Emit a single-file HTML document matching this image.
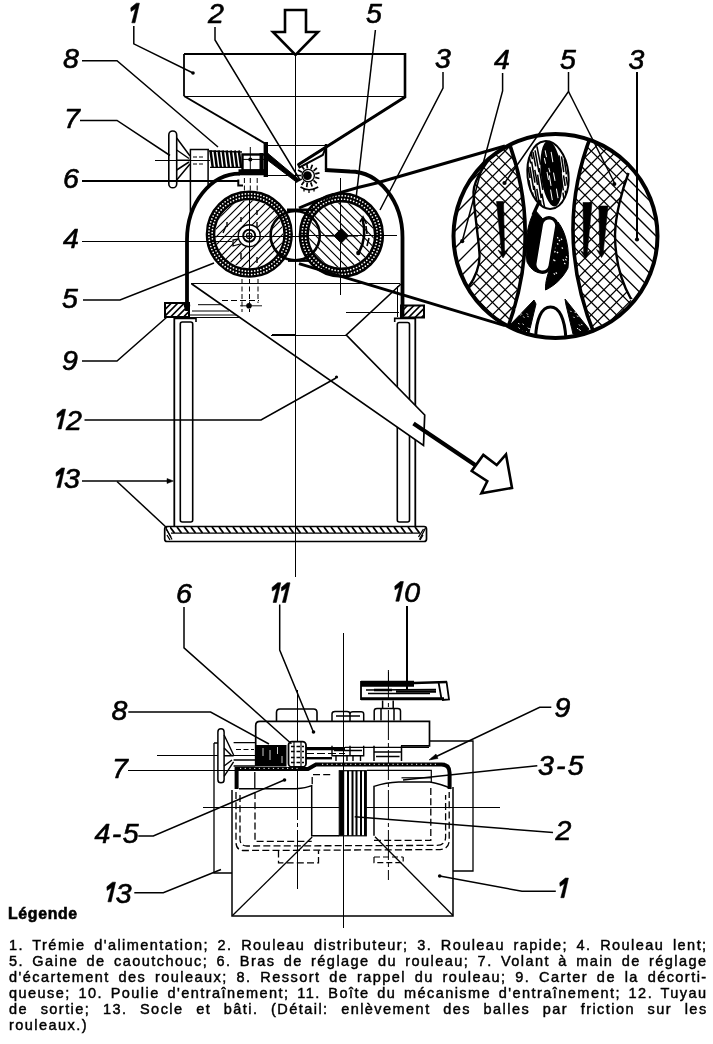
<!DOCTYPE html>
<html><head><meta charset="utf-8"><title>Décortiqueuse à rouleaux</title>
<style>
html,body{margin:0;padding:0;background:#fff;}
body{width:713px;height:1044px;position:relative;overflow:hidden;font-family:"Liberation Sans",sans-serif;color:#000;}
svg{position:absolute;left:0;top:0;}
svg,h1,.leg{will-change:transform;}
svg{stroke:#000;stroke-linecap:butt;stroke-linejoin:miter;}
svg text.lb{font-family:"Liberation Sans",sans-serif;font-style:italic;font-weight:400;fill:#000;stroke:#000;stroke-width:0.65px;stroke-linejoin:round;}
.leg{position:absolute;left:8.6px;width:698.6px;font-size:14.5px;line-height:15.92px;letter-spacing:1.45px;-webkit-text-stroke:0.45px #000;}
.leg div{text-align:justify;text-align-last:justify;white-space:nowrap;height:15.92px;}
.leg div.last{text-align-last:left;}
h1{position:absolute;left:8px;top:905.3px;margin:0;font-size:15.8px;line-height:18px;font-weight:700;letter-spacing:0.7px;-webkit-text-stroke:0.6px #000;}
</style></head><body>
<svg width="713" height="1044" viewBox="0 0 713 1044" fill="none">
<line x1="295.3" y1="55" x2="295.3" y2="577" stroke-width="1.2"  shape-rendering="crispEdges"/>
<path d="M285,10 L306,10 L306,32 L318,32 L295.5,55 L273,32 L285,32 Z" stroke-width="2.6" fill="#fff" />
<line x1="184" y1="54" x2="405" y2="54" stroke-width="1.2"  shape-rendering="crispEdges"/>
<line x1="184" y1="96" x2="405" y2="96" stroke-width="1.0"  shape-rendering="crispEdges"/>
<line x1="184" y1="54" x2="184" y2="96" stroke-width="1.8" />
<line x1="405" y1="53" x2="405" y2="98" stroke-width="2.6" />
<line x1="184" y1="96" x2="266" y2="144" stroke-width="2.0" />
<path d="M405,97 L298.2,164.7 L299.5,167.3 L322.8,155 L326,147" stroke-width="2.0" fill="#fff" />
<line x1="405" y1="97" x2="298.2" y2="164.7" stroke-width="3.0" />
<line x1="267.3" y1="145.1" x2="326" y2="145.1" stroke-width="1.0"  shape-rendering="crispEdges"/>
<line x1="326" y1="144" x2="326" y2="170" stroke-width="2.4" />
<line x1="265.8" y1="142" x2="265.8" y2="177" stroke-width="4.4" />
<path d="M268,153.5 L299,179.5 L297,182.5 L268,160.5 Z" stroke-width="1" fill="#000" />
<line x1="268" y1="175.5" x2="296.6" y2="175.5" stroke-width="1.0"  shape-rendering="crispEdges"/>
<path d="M324.9,170 L350,171.5 A52.5,66 0 0 1 402.5,238 L402.5,316" stroke-width="3.8" fill="none" />
<path d="M240,173.6 A53,66 0 0 0 187,240 L187,311" stroke-width="3.8" fill="none" />
<circle cx="187" cy="305.5" r="3.2" fill="#000" stroke="none"/>
<line x1="397" y1="286" x2="397" y2="317" stroke-width="1.0"  shape-rendering="crispEdges"/>
<clipPath id="rc249"><circle cx="249.3" cy="234.2" r="34"/></clipPath>
<path d="M88.8,284.2 L188.8,184.2 M96.8,284.2 L196.8,184.2 M104.8,284.2 L204.8,184.2 M112.8,284.2 L212.8,184.2 M120.8,284.2 L220.8,184.2 M128.8,284.2 L228.8,184.2 M136.8,284.2 L236.8,184.2 M144.8,284.2 L244.8,184.2 M152.8,284.2 L252.8,184.2 M160.8,284.2 L260.8,184.2 M168.8,284.2 L268.8,184.2 M176.8,284.2 L276.8,184.2 M184.8,284.2 L284.8,184.2 M192.8,284.2 L292.8,184.2 M200.8,284.2 L300.8,184.2 M208.8,284.2 L308.8,184.2 M216.8,284.2 L316.8,184.2 M224.8,284.2 L324.8,184.2 M232.8,284.2 L332.8,184.2 M240.8,284.2 L340.8,184.2 M248.8,284.2 L348.8,184.2 M256.8,284.2 L356.8,184.2 M264.8,284.2 L364.8,184.2 M272.8,284.2 L372.8,184.2 M280.8,284.2 L380.8,184.2 M288.8,284.2 L388.8,184.2 M296.8,284.2 L396.8,184.2 M304.8,284.2 L404.8,184.2 M312.8,284.2 L412.8,184.2 " stroke-width="1.15" clip-path="url(#rc249)"/>
<circle cx="249.3" cy="234.2" r="38.8" stroke-width="9.600000000000001"/>
<circle cx="286.47" cy="234.20" r="0.85" fill="#fff" stroke="none"/>
<circle cx="286.34" cy="237.31" r="0.85" fill="#fff" stroke="none"/>
<circle cx="285.95" cy="240.40" r="0.85" fill="#fff" stroke="none"/>
<circle cx="285.30" cy="243.44" r="0.85" fill="#fff" stroke="none"/>
<circle cx="284.40" cy="246.42" r="0.85" fill="#fff" stroke="none"/>
<circle cx="283.25" cy="249.32" r="0.85" fill="#fff" stroke="none"/>
<circle cx="281.87" cy="252.11" r="0.85" fill="#fff" stroke="none"/>
<circle cx="280.26" cy="254.77" r="0.85" fill="#fff" stroke="none"/>
<circle cx="278.43" cy="257.29" r="0.85" fill="#fff" stroke="none"/>
<circle cx="276.39" cy="259.64" r="0.85" fill="#fff" stroke="none"/>
<circle cx="274.17" cy="261.82" r="0.85" fill="#fff" stroke="none"/>
<circle cx="271.77" cy="263.81" r="0.85" fill="#fff" stroke="none"/>
<circle cx="269.22" cy="265.58" r="0.85" fill="#fff" stroke="none"/>
<circle cx="266.52" cy="267.14" r="0.85" fill="#fff" stroke="none"/>
<circle cx="263.70" cy="268.46" r="0.85" fill="#fff" stroke="none"/>
<circle cx="260.79" cy="269.55" r="0.85" fill="#fff" stroke="none"/>
<circle cx="257.79" cy="270.39" r="0.85" fill="#fff" stroke="none"/>
<circle cx="254.73" cy="270.97" r="0.85" fill="#fff" stroke="none"/>
<circle cx="251.63" cy="271.29" r="0.85" fill="#fff" stroke="none"/>
<circle cx="248.52" cy="271.36" r="0.85" fill="#fff" stroke="none"/>
<circle cx="245.41" cy="271.16" r="0.85" fill="#fff" stroke="none"/>
<circle cx="242.34" cy="270.71" r="0.85" fill="#fff" stroke="none"/>
<circle cx="239.30" cy="270.00" r="0.85" fill="#fff" stroke="none"/>
<circle cx="236.34" cy="269.04" r="0.85" fill="#fff" stroke="none"/>
<circle cx="233.47" cy="267.83" r="0.85" fill="#fff" stroke="none"/>
<circle cx="230.72" cy="266.39" r="0.85" fill="#fff" stroke="none"/>
<circle cx="228.09" cy="264.72" r="0.85" fill="#fff" stroke="none"/>
<circle cx="225.61" cy="262.84" r="0.85" fill="#fff" stroke="none"/>
<circle cx="223.29" cy="260.76" r="0.85" fill="#fff" stroke="none"/>
<circle cx="221.16" cy="258.49" r="0.85" fill="#fff" stroke="none"/>
<circle cx="219.23" cy="256.05" r="0.85" fill="#fff" stroke="none"/>
<circle cx="217.51" cy="253.45" r="0.85" fill="#fff" stroke="none"/>
<circle cx="216.01" cy="250.73" r="0.85" fill="#fff" stroke="none"/>
<circle cx="214.74" cy="247.88" r="0.85" fill="#fff" stroke="none"/>
<circle cx="213.72" cy="244.94" r="0.85" fill="#fff" stroke="none"/>
<circle cx="212.94" cy="241.93" r="0.85" fill="#fff" stroke="none"/>
<circle cx="212.43" cy="238.86" r="0.85" fill="#fff" stroke="none"/>
<circle cx="212.16" cy="235.76" r="0.85" fill="#fff" stroke="none"/>
<circle cx="212.16" cy="232.64" r="0.85" fill="#fff" stroke="none"/>
<circle cx="212.43" cy="229.54" r="0.85" fill="#fff" stroke="none"/>
<circle cx="212.94" cy="226.47" r="0.85" fill="#fff" stroke="none"/>
<circle cx="213.72" cy="223.46" r="0.85" fill="#fff" stroke="none"/>
<circle cx="214.74" cy="220.52" r="0.85" fill="#fff" stroke="none"/>
<circle cx="216.01" cy="217.67" r="0.85" fill="#fff" stroke="none"/>
<circle cx="217.51" cy="214.95" r="0.85" fill="#fff" stroke="none"/>
<circle cx="219.23" cy="212.35" r="0.85" fill="#fff" stroke="none"/>
<circle cx="221.16" cy="209.91" r="0.85" fill="#fff" stroke="none"/>
<circle cx="223.29" cy="207.64" r="0.85" fill="#fff" stroke="none"/>
<circle cx="225.61" cy="205.56" r="0.85" fill="#fff" stroke="none"/>
<circle cx="228.09" cy="203.68" r="0.85" fill="#fff" stroke="none"/>
<circle cx="230.72" cy="202.01" r="0.85" fill="#fff" stroke="none"/>
<circle cx="233.47" cy="200.57" r="0.85" fill="#fff" stroke="none"/>
<circle cx="236.34" cy="199.36" r="0.85" fill="#fff" stroke="none"/>
<circle cx="239.30" cy="198.40" r="0.85" fill="#fff" stroke="none"/>
<circle cx="242.34" cy="197.69" r="0.85" fill="#fff" stroke="none"/>
<circle cx="245.41" cy="197.24" r="0.85" fill="#fff" stroke="none"/>
<circle cx="248.52" cy="197.04" r="0.85" fill="#fff" stroke="none"/>
<circle cx="251.63" cy="197.11" r="0.85" fill="#fff" stroke="none"/>
<circle cx="254.73" cy="197.43" r="0.85" fill="#fff" stroke="none"/>
<circle cx="257.79" cy="198.01" r="0.85" fill="#fff" stroke="none"/>
<circle cx="260.79" cy="198.85" r="0.85" fill="#fff" stroke="none"/>
<circle cx="263.70" cy="199.94" r="0.85" fill="#fff" stroke="none"/>
<circle cx="266.52" cy="201.26" r="0.85" fill="#fff" stroke="none"/>
<circle cx="269.22" cy="202.82" r="0.85" fill="#fff" stroke="none"/>
<circle cx="271.77" cy="204.59" r="0.85" fill="#fff" stroke="none"/>
<circle cx="274.17" cy="206.58" r="0.85" fill="#fff" stroke="none"/>
<circle cx="276.39" cy="208.76" r="0.85" fill="#fff" stroke="none"/>
<circle cx="278.43" cy="211.11" r="0.85" fill="#fff" stroke="none"/>
<circle cx="280.26" cy="213.63" r="0.85" fill="#fff" stroke="none"/>
<circle cx="281.87" cy="216.29" r="0.85" fill="#fff" stroke="none"/>
<circle cx="283.25" cy="219.08" r="0.85" fill="#fff" stroke="none"/>
<circle cx="284.40" cy="221.98" r="0.85" fill="#fff" stroke="none"/>
<circle cx="285.30" cy="224.96" r="0.85" fill="#fff" stroke="none"/>
<circle cx="285.95" cy="228.00" r="0.85" fill="#fff" stroke="none"/>
<circle cx="286.34" cy="231.09" r="0.85" fill="#fff" stroke="none"/>
<circle cx="289.70" cy="235.77" r="0.85" fill="#fff" stroke="none"/>
<circle cx="289.46" cy="238.89" r="0.85" fill="#fff" stroke="none"/>
<circle cx="288.97" cy="241.99" r="0.85" fill="#fff" stroke="none"/>
<circle cx="288.25" cy="245.04" r="0.85" fill="#fff" stroke="none"/>
<circle cx="287.29" cy="248.03" r="0.85" fill="#fff" stroke="none"/>
<circle cx="286.11" cy="250.93" r="0.85" fill="#fff" stroke="none"/>
<circle cx="284.70" cy="253.73" r="0.85" fill="#fff" stroke="none"/>
<circle cx="283.08" cy="256.42" r="0.85" fill="#fff" stroke="none"/>
<circle cx="281.26" cy="258.97" r="0.85" fill="#fff" stroke="none"/>
<circle cx="279.24" cy="261.37" r="0.85" fill="#fff" stroke="none"/>
<circle cx="277.05" cy="263.61" r="0.85" fill="#fff" stroke="none"/>
<circle cx="274.68" cy="265.67" r="0.85" fill="#fff" stroke="none"/>
<circle cx="272.17" cy="267.54" r="0.85" fill="#fff" stroke="none"/>
<circle cx="269.52" cy="269.22" r="0.85" fill="#fff" stroke="none"/>
<circle cx="266.74" cy="270.68" r="0.85" fill="#fff" stroke="none"/>
<circle cx="263.86" cy="271.92" r="0.85" fill="#fff" stroke="none"/>
<circle cx="260.90" cy="272.93" r="0.85" fill="#fff" stroke="none"/>
<circle cx="257.86" cy="273.72" r="0.85" fill="#fff" stroke="none"/>
<circle cx="254.77" cy="274.26" r="0.85" fill="#fff" stroke="none"/>
<circle cx="251.65" cy="274.56" r="0.85" fill="#fff" stroke="none"/>
<circle cx="248.52" cy="274.62" r="0.85" fill="#fff" stroke="none"/>
<circle cx="245.39" cy="274.44" r="0.85" fill="#fff" stroke="none"/>
<circle cx="242.28" cy="274.02" r="0.85" fill="#fff" stroke="none"/>
<circle cx="239.21" cy="273.35" r="0.85" fill="#fff" stroke="none"/>
<circle cx="236.21" cy="272.45" r="0.85" fill="#fff" stroke="none"/>
<circle cx="233.29" cy="271.33" r="0.85" fill="#fff" stroke="none"/>
<circle cx="230.46" cy="269.97" r="0.85" fill="#fff" stroke="none"/>
<circle cx="227.74" cy="268.40" r="0.85" fill="#fff" stroke="none"/>
<circle cx="225.16" cy="266.63" r="0.85" fill="#fff" stroke="none"/>
<circle cx="222.72" cy="264.66" r="0.85" fill="#fff" stroke="none"/>
<circle cx="220.43" cy="262.51" r="0.85" fill="#fff" stroke="none"/>
<circle cx="218.33" cy="260.19" r="0.85" fill="#fff" stroke="none"/>
<circle cx="216.41" cy="257.71" r="0.85" fill="#fff" stroke="none"/>
<circle cx="214.68" cy="255.09" r="0.85" fill="#fff" stroke="none"/>
<circle cx="213.17" cy="252.35" r="0.85" fill="#fff" stroke="none"/>
<circle cx="211.87" cy="249.49" r="0.85" fill="#fff" stroke="none"/>
<circle cx="210.80" cy="246.54" r="0.85" fill="#fff" stroke="none"/>
<circle cx="209.96" cy="243.52" r="0.85" fill="#fff" stroke="none"/>
<circle cx="209.35" cy="240.45" r="0.85" fill="#fff" stroke="none"/>
<circle cx="208.99" cy="237.33" r="0.85" fill="#fff" stroke="none"/>
<circle cx="208.87" cy="234.20" r="0.85" fill="#fff" stroke="none"/>
<circle cx="208.99" cy="231.07" r="0.85" fill="#fff" stroke="none"/>
<circle cx="209.35" cy="227.95" r="0.85" fill="#fff" stroke="none"/>
<circle cx="209.96" cy="224.88" r="0.85" fill="#fff" stroke="none"/>
<circle cx="210.80" cy="221.86" r="0.85" fill="#fff" stroke="none"/>
<circle cx="211.87" cy="218.91" r="0.85" fill="#fff" stroke="none"/>
<circle cx="213.17" cy="216.05" r="0.85" fill="#fff" stroke="none"/>
<circle cx="214.68" cy="213.31" r="0.85" fill="#fff" stroke="none"/>
<circle cx="216.41" cy="210.69" r="0.85" fill="#fff" stroke="none"/>
<circle cx="218.33" cy="208.21" r="0.85" fill="#fff" stroke="none"/>
<circle cx="220.43" cy="205.89" r="0.85" fill="#fff" stroke="none"/>
<circle cx="222.72" cy="203.74" r="0.85" fill="#fff" stroke="none"/>
<circle cx="225.16" cy="201.77" r="0.85" fill="#fff" stroke="none"/>
<circle cx="227.74" cy="200.00" r="0.85" fill="#fff" stroke="none"/>
<circle cx="230.46" cy="198.43" r="0.85" fill="#fff" stroke="none"/>
<circle cx="233.29" cy="197.07" r="0.85" fill="#fff" stroke="none"/>
<circle cx="236.21" cy="195.95" r="0.85" fill="#fff" stroke="none"/>
<circle cx="239.21" cy="195.05" r="0.85" fill="#fff" stroke="none"/>
<circle cx="242.28" cy="194.38" r="0.85" fill="#fff" stroke="none"/>
<circle cx="245.39" cy="193.96" r="0.85" fill="#fff" stroke="none"/>
<circle cx="248.52" cy="193.78" r="0.85" fill="#fff" stroke="none"/>
<circle cx="251.65" cy="193.84" r="0.85" fill="#fff" stroke="none"/>
<circle cx="254.77" cy="194.14" r="0.85" fill="#fff" stroke="none"/>
<circle cx="257.86" cy="194.68" r="0.85" fill="#fff" stroke="none"/>
<circle cx="260.90" cy="195.47" r="0.85" fill="#fff" stroke="none"/>
<circle cx="263.86" cy="196.48" r="0.85" fill="#fff" stroke="none"/>
<circle cx="266.74" cy="197.72" r="0.85" fill="#fff" stroke="none"/>
<circle cx="269.52" cy="199.18" r="0.85" fill="#fff" stroke="none"/>
<circle cx="272.17" cy="200.86" r="0.85" fill="#fff" stroke="none"/>
<circle cx="274.68" cy="202.73" r="0.85" fill="#fff" stroke="none"/>
<circle cx="277.05" cy="204.79" r="0.85" fill="#fff" stroke="none"/>
<circle cx="279.24" cy="207.03" r="0.85" fill="#fff" stroke="none"/>
<circle cx="281.26" cy="209.43" r="0.85" fill="#fff" stroke="none"/>
<circle cx="283.08" cy="211.98" r="0.85" fill="#fff" stroke="none"/>
<circle cx="284.70" cy="214.67" r="0.85" fill="#fff" stroke="none"/>
<circle cx="286.11" cy="217.47" r="0.85" fill="#fff" stroke="none"/>
<circle cx="287.29" cy="220.37" r="0.85" fill="#fff" stroke="none"/>
<circle cx="288.25" cy="223.36" r="0.85" fill="#fff" stroke="none"/>
<circle cx="288.97" cy="226.41" r="0.85" fill="#fff" stroke="none"/>
<circle cx="289.46" cy="229.51" r="0.85" fill="#fff" stroke="none"/>
<circle cx="289.70" cy="232.63" r="0.85" fill="#fff" stroke="none"/>
<clipPath id="rc341"><circle cx="341.4" cy="235" r="32.5"/></clipPath>
<path d="M162.7,185 L262.7,285 M172.0,185 L272.0,285 M181.3,185 L281.3,285 M190.6,185 L290.6,285 M199.9,185 L299.9,285 M209.2,185 L309.2,285 M218.5,185 L318.5,285 M227.8,185 L327.8,285 M237.1,185 L337.1,285 M246.4,185 L346.4,285 M255.7,185 L355.7,285 M265.0,185 L365.0,285 M274.3,185 L374.3,285 M283.6,185 L383.6,285 M292.9,185 L392.9,285 M302.2,185 L402.2,285 M311.5,185 L411.5,285 M320.8,185 L420.8,285 M330.1,185 L430.1,285 M339.4,185 L439.4,285 M348.7,185 L448.7,285 M358.0,185 L458.0,285 M367.3,185 L467.3,285 M376.6,185 L476.6,285 M385.9,185 L485.9,285 M395.2,185 L495.2,285 M404.5,185 L504.5,285 M413.8,185 L513.8,285 M423.1,185 L523.1,285 " stroke-width="1.15" clip-path="url(#rc341)"/>
<circle cx="341.4" cy="235" r="37.6" stroke-width="10.200000000000003"/>
<circle cx="377.27" cy="235.00" r="0.85" fill="#fff" stroke="none"/>
<circle cx="377.13" cy="238.13" r="0.85" fill="#fff" stroke="none"/>
<circle cx="376.72" cy="241.23" r="0.85" fill="#fff" stroke="none"/>
<circle cx="376.04" cy="244.28" r="0.85" fill="#fff" stroke="none"/>
<circle cx="375.10" cy="247.27" r="0.85" fill="#fff" stroke="none"/>
<circle cx="373.91" cy="250.16" r="0.85" fill="#fff" stroke="none"/>
<circle cx="372.46" cy="252.93" r="0.85" fill="#fff" stroke="none"/>
<circle cx="370.78" cy="255.57" r="0.85" fill="#fff" stroke="none"/>
<circle cx="368.87" cy="258.05" r="0.85" fill="#fff" stroke="none"/>
<circle cx="366.76" cy="260.36" r="0.85" fill="#fff" stroke="none"/>
<circle cx="364.45" cy="262.47" r="0.85" fill="#fff" stroke="none"/>
<circle cx="361.97" cy="264.38" r="0.85" fill="#fff" stroke="none"/>
<circle cx="359.33" cy="266.06" r="0.85" fill="#fff" stroke="none"/>
<circle cx="356.56" cy="267.51" r="0.85" fill="#fff" stroke="none"/>
<circle cx="353.67" cy="268.70" r="0.85" fill="#fff" stroke="none"/>
<circle cx="350.68" cy="269.64" r="0.85" fill="#fff" stroke="none"/>
<circle cx="347.63" cy="270.32" r="0.85" fill="#fff" stroke="none"/>
<circle cx="344.53" cy="270.73" r="0.85" fill="#fff" stroke="none"/>
<circle cx="341.40" cy="270.87" r="0.85" fill="#fff" stroke="none"/>
<circle cx="338.27" cy="270.73" r="0.85" fill="#fff" stroke="none"/>
<circle cx="335.17" cy="270.32" r="0.85" fill="#fff" stroke="none"/>
<circle cx="332.12" cy="269.64" r="0.85" fill="#fff" stroke="none"/>
<circle cx="329.13" cy="268.70" r="0.85" fill="#fff" stroke="none"/>
<circle cx="326.24" cy="267.51" r="0.85" fill="#fff" stroke="none"/>
<circle cx="323.47" cy="266.06" r="0.85" fill="#fff" stroke="none"/>
<circle cx="320.83" cy="264.38" r="0.85" fill="#fff" stroke="none"/>
<circle cx="318.35" cy="262.47" r="0.85" fill="#fff" stroke="none"/>
<circle cx="316.04" cy="260.36" r="0.85" fill="#fff" stroke="none"/>
<circle cx="313.93" cy="258.05" r="0.85" fill="#fff" stroke="none"/>
<circle cx="312.02" cy="255.57" r="0.85" fill="#fff" stroke="none"/>
<circle cx="310.34" cy="252.93" r="0.85" fill="#fff" stroke="none"/>
<circle cx="308.89" cy="250.16" r="0.85" fill="#fff" stroke="none"/>
<circle cx="307.70" cy="247.27" r="0.85" fill="#fff" stroke="none"/>
<circle cx="306.76" cy="244.28" r="0.85" fill="#fff" stroke="none"/>
<circle cx="306.08" cy="241.23" r="0.85" fill="#fff" stroke="none"/>
<circle cx="305.67" cy="238.13" r="0.85" fill="#fff" stroke="none"/>
<circle cx="305.53" cy="235.00" r="0.85" fill="#fff" stroke="none"/>
<circle cx="305.67" cy="231.87" r="0.85" fill="#fff" stroke="none"/>
<circle cx="306.08" cy="228.77" r="0.85" fill="#fff" stroke="none"/>
<circle cx="306.76" cy="225.72" r="0.85" fill="#fff" stroke="none"/>
<circle cx="307.70" cy="222.73" r="0.85" fill="#fff" stroke="none"/>
<circle cx="308.89" cy="219.84" r="0.85" fill="#fff" stroke="none"/>
<circle cx="310.34" cy="217.07" r="0.85" fill="#fff" stroke="none"/>
<circle cx="312.02" cy="214.43" r="0.85" fill="#fff" stroke="none"/>
<circle cx="313.93" cy="211.95" r="0.85" fill="#fff" stroke="none"/>
<circle cx="316.04" cy="209.64" r="0.85" fill="#fff" stroke="none"/>
<circle cx="318.35" cy="207.53" r="0.85" fill="#fff" stroke="none"/>
<circle cx="320.83" cy="205.62" r="0.85" fill="#fff" stroke="none"/>
<circle cx="323.47" cy="203.94" r="0.85" fill="#fff" stroke="none"/>
<circle cx="326.24" cy="202.49" r="0.85" fill="#fff" stroke="none"/>
<circle cx="329.13" cy="201.30" r="0.85" fill="#fff" stroke="none"/>
<circle cx="332.12" cy="200.36" r="0.85" fill="#fff" stroke="none"/>
<circle cx="335.17" cy="199.68" r="0.85" fill="#fff" stroke="none"/>
<circle cx="338.27" cy="199.27" r="0.85" fill="#fff" stroke="none"/>
<circle cx="341.40" cy="199.13" r="0.85" fill="#fff" stroke="none"/>
<circle cx="344.53" cy="199.27" r="0.85" fill="#fff" stroke="none"/>
<circle cx="347.63" cy="199.68" r="0.85" fill="#fff" stroke="none"/>
<circle cx="350.68" cy="200.36" r="0.85" fill="#fff" stroke="none"/>
<circle cx="353.67" cy="201.30" r="0.85" fill="#fff" stroke="none"/>
<circle cx="356.56" cy="202.49" r="0.85" fill="#fff" stroke="none"/>
<circle cx="359.33" cy="203.94" r="0.85" fill="#fff" stroke="none"/>
<circle cx="361.97" cy="205.62" r="0.85" fill="#fff" stroke="none"/>
<circle cx="364.45" cy="207.53" r="0.85" fill="#fff" stroke="none"/>
<circle cx="366.76" cy="209.64" r="0.85" fill="#fff" stroke="none"/>
<circle cx="368.87" cy="211.95" r="0.85" fill="#fff" stroke="none"/>
<circle cx="370.78" cy="214.43" r="0.85" fill="#fff" stroke="none"/>
<circle cx="372.46" cy="217.07" r="0.85" fill="#fff" stroke="none"/>
<circle cx="373.91" cy="219.84" r="0.85" fill="#fff" stroke="none"/>
<circle cx="375.10" cy="222.73" r="0.85" fill="#fff" stroke="none"/>
<circle cx="376.04" cy="225.72" r="0.85" fill="#fff" stroke="none"/>
<circle cx="376.72" cy="228.77" r="0.85" fill="#fff" stroke="none"/>
<circle cx="377.13" cy="231.87" r="0.85" fill="#fff" stroke="none"/>
<circle cx="380.70" cy="236.56" r="0.85" fill="#fff" stroke="none"/>
<circle cx="380.45" cy="239.68" r="0.85" fill="#fff" stroke="none"/>
<circle cx="379.96" cy="242.77" r="0.85" fill="#fff" stroke="none"/>
<circle cx="379.22" cy="245.81" r="0.85" fill="#fff" stroke="none"/>
<circle cx="378.24" cy="248.78" r="0.85" fill="#fff" stroke="none"/>
<circle cx="377.03" cy="251.66" r="0.85" fill="#fff" stroke="none"/>
<circle cx="375.59" cy="254.44" r="0.85" fill="#fff" stroke="none"/>
<circle cx="373.94" cy="257.10" r="0.85" fill="#fff" stroke="none"/>
<circle cx="372.08" cy="259.61" r="0.85" fill="#fff" stroke="none"/>
<circle cx="370.03" cy="261.97" r="0.85" fill="#fff" stroke="none"/>
<circle cx="367.80" cy="264.16" r="0.85" fill="#fff" stroke="none"/>
<circle cx="365.40" cy="266.17" r="0.85" fill="#fff" stroke="none"/>
<circle cx="362.84" cy="267.97" r="0.85" fill="#fff" stroke="none"/>
<circle cx="360.16" cy="269.57" r="0.85" fill="#fff" stroke="none"/>
<circle cx="357.35" cy="270.95" r="0.85" fill="#fff" stroke="none"/>
<circle cx="354.44" cy="272.11" r="0.85" fill="#fff" stroke="none"/>
<circle cx="351.45" cy="273.03" r="0.85" fill="#fff" stroke="none"/>
<circle cx="348.40" cy="273.71" r="0.85" fill="#fff" stroke="none"/>
<circle cx="345.30" cy="274.14" r="0.85" fill="#fff" stroke="none"/>
<circle cx="342.18" cy="274.33" r="0.85" fill="#fff" stroke="none"/>
<circle cx="339.06" cy="274.26" r="0.85" fill="#fff" stroke="none"/>
<circle cx="335.94" cy="273.95" r="0.85" fill="#fff" stroke="none"/>
<circle cx="332.87" cy="273.40" r="0.85" fill="#fff" stroke="none"/>
<circle cx="329.84" cy="272.60" r="0.85" fill="#fff" stroke="none"/>
<circle cx="326.89" cy="271.56" r="0.85" fill="#fff" stroke="none"/>
<circle cx="324.03" cy="270.29" r="0.85" fill="#fff" stroke="none"/>
<circle cx="321.28" cy="268.80" r="0.85" fill="#fff" stroke="none"/>
<circle cx="318.66" cy="267.10" r="0.85" fill="#fff" stroke="none"/>
<circle cx="316.18" cy="265.19" r="0.85" fill="#fff" stroke="none"/>
<circle cx="313.86" cy="263.09" r="0.85" fill="#fff" stroke="none"/>
<circle cx="311.72" cy="260.81" r="0.85" fill="#fff" stroke="none"/>
<circle cx="309.76" cy="258.37" r="0.85" fill="#fff" stroke="none"/>
<circle cx="308.01" cy="255.78" r="0.85" fill="#fff" stroke="none"/>
<circle cx="306.46" cy="253.07" r="0.85" fill="#fff" stroke="none"/>
<circle cx="305.14" cy="250.23" r="0.85" fill="#fff" stroke="none"/>
<circle cx="304.04" cy="247.30" r="0.85" fill="#fff" stroke="none"/>
<circle cx="303.18" cy="244.30" r="0.85" fill="#fff" stroke="none"/>
<circle cx="302.56" cy="241.23" r="0.85" fill="#fff" stroke="none"/>
<circle cx="302.19" cy="238.13" r="0.85" fill="#fff" stroke="none"/>
<circle cx="302.07" cy="235.00" r="0.85" fill="#fff" stroke="none"/>
<circle cx="302.19" cy="231.87" r="0.85" fill="#fff" stroke="none"/>
<circle cx="302.56" cy="228.77" r="0.85" fill="#fff" stroke="none"/>
<circle cx="303.18" cy="225.70" r="0.85" fill="#fff" stroke="none"/>
<circle cx="304.04" cy="222.70" r="0.85" fill="#fff" stroke="none"/>
<circle cx="305.14" cy="219.77" r="0.85" fill="#fff" stroke="none"/>
<circle cx="306.46" cy="216.93" r="0.85" fill="#fff" stroke="none"/>
<circle cx="308.01" cy="214.22" r="0.85" fill="#fff" stroke="none"/>
<circle cx="309.76" cy="211.63" r="0.85" fill="#fff" stroke="none"/>
<circle cx="311.72" cy="209.19" r="0.85" fill="#fff" stroke="none"/>
<circle cx="313.86" cy="206.91" r="0.85" fill="#fff" stroke="none"/>
<circle cx="316.18" cy="204.81" r="0.85" fill="#fff" stroke="none"/>
<circle cx="318.66" cy="202.90" r="0.85" fill="#fff" stroke="none"/>
<circle cx="321.28" cy="201.20" r="0.85" fill="#fff" stroke="none"/>
<circle cx="324.03" cy="199.71" r="0.85" fill="#fff" stroke="none"/>
<circle cx="326.89" cy="198.44" r="0.85" fill="#fff" stroke="none"/>
<circle cx="329.84" cy="197.40" r="0.85" fill="#fff" stroke="none"/>
<circle cx="332.87" cy="196.60" r="0.85" fill="#fff" stroke="none"/>
<circle cx="335.94" cy="196.05" r="0.85" fill="#fff" stroke="none"/>
<circle cx="339.06" cy="195.74" r="0.85" fill="#fff" stroke="none"/>
<circle cx="342.18" cy="195.67" r="0.85" fill="#fff" stroke="none"/>
<circle cx="345.30" cy="195.86" r="0.85" fill="#fff" stroke="none"/>
<circle cx="348.40" cy="196.29" r="0.85" fill="#fff" stroke="none"/>
<circle cx="351.45" cy="196.97" r="0.85" fill="#fff" stroke="none"/>
<circle cx="354.44" cy="197.89" r="0.85" fill="#fff" stroke="none"/>
<circle cx="357.35" cy="199.05" r="0.85" fill="#fff" stroke="none"/>
<circle cx="360.16" cy="200.43" r="0.85" fill="#fff" stroke="none"/>
<circle cx="362.84" cy="202.03" r="0.85" fill="#fff" stroke="none"/>
<circle cx="365.40" cy="203.83" r="0.85" fill="#fff" stroke="none"/>
<circle cx="367.80" cy="205.84" r="0.85" fill="#fff" stroke="none"/>
<circle cx="370.03" cy="208.03" r="0.85" fill="#fff" stroke="none"/>
<circle cx="372.08" cy="210.39" r="0.85" fill="#fff" stroke="none"/>
<circle cx="373.94" cy="212.90" r="0.85" fill="#fff" stroke="none"/>
<circle cx="375.59" cy="215.56" r="0.85" fill="#fff" stroke="none"/>
<circle cx="377.03" cy="218.34" r="0.85" fill="#fff" stroke="none"/>
<circle cx="378.24" cy="221.22" r="0.85" fill="#fff" stroke="none"/>
<circle cx="379.22" cy="224.19" r="0.85" fill="#fff" stroke="none"/>
<circle cx="379.96" cy="227.23" r="0.85" fill="#fff" stroke="none"/>
<circle cx="380.45" cy="230.32" r="0.85" fill="#fff" stroke="none"/>
<circle cx="380.70" cy="233.44" r="0.85" fill="#fff" stroke="none"/>
<circle cx="249.2" cy="235.8" r="11" fill="#fff" stroke-width="1.4"/>
<circle cx="249.2" cy="235.8" r="6" fill="#fff" stroke-width="2.0"/>
<circle cx="249.2" cy="235.8" r="2.8" fill="#fff" stroke-width="1.1"/>
<path d="M246,235.8 L252.4,235.8 M249.2,232.6 L249.2,239" stroke-width="0.9" fill="none" />
<path d="M238.5,239 L233,240 L233,246 L240,244" stroke-width="1.3" fill="none" />
<path d="M241,217 l0,5 M257,210 l0,5 M257,222 l0,5 M227,222 l0,5 M241,253 l0,6 M257,257 l0,6 M226,226 l-3,7" stroke-width="1.4" fill="none" />
<path d="M341.3,228.6 L348.5,235.8 L341.3,243 L334.1,235.8 Z" stroke-width="1" fill="#000" />
<path d="M326,235.8 L358,235.8" stroke-width="1.6" fill="none" />
<path d="M362.5,219 Q367.5,236 359,252.5" stroke-width="2.6" fill="none" />
<circle cx="358.3" cy="253" r="2.2" fill="#000" stroke="none"/>
<path d="M360,222 L363,217 L366.5,224" stroke-width="1.6" fill="none" />
<path d="M366,226 l1,8 M369,238 l-2,8" stroke-width="1.6" fill="none" />
<line x1="215" y1="236.2" x2="300" y2="236.2" stroke-width="1.0"  shape-rendering="crispEdges"/>
<line x1="300" y1="235.6" x2="397" y2="235.6" stroke-width="1.0"  shape-rendering="crispEdges"/>
<line x1="340.6" y1="178" x2="340.6" y2="295" stroke-width="1.0"  shape-rendering="crispEdges"/>
<line x1="249.2" y1="199" x2="249.2" y2="277" stroke-width="1.0"  shape-rendering="crispEdges"/>
<circle cx="295.2" cy="235.6" r="24.6" stroke-width="2.6"/>
<line x1="287" y1="209.8" x2="313" y2="209.8" stroke-width="2.6" />
<line x1="288" y1="260.6" x2="309" y2="260.6" stroke-width="2.6" />
<circle cx="308.2" cy="175.6" r="6.2" stroke-width="1.4" fill="#fff"/>
<circle cx="307.4" cy="175.6" r="4.4" fill="#000" stroke="none"/>
<path d="M315.2,177.4 L319.4,178.5 M313.5,180.4 L316.8,183.4 M310.7,182.4 L312.2,186.5 M307.3,182.7 L306.7,187.1 M304.1,181.5 L301.5,185.1 M301.8,178.9 L297.9,180.9 M301.0,175.5 L296.6,175.5 M301.9,172.2 L298.0,170.1 M304.2,169.6 L301.7,166.0 M307.4,168.4 L306.9,164.1 M310.8,168.9 L312.4,164.8 M313.6,170.9 L316.9,168.0 M315.2,173.9 L319.5,172.9 " stroke-width="1.7" fill="none" />
<path d="M300.5,187 Q309,192.5 318.2,187" stroke-width="1.6" fill="none" />
<path d="M304,188 l0,3.5 M309,189 l0,4 M314,188 l0,3.5" stroke-width="1.3" fill="none" />
<path d="M505,146 L376.7,183 Q335,192 299,208" stroke-width="3.0" fill="none" />
<path d="M505,325.6 L299,263.6" stroke-width="3.0" fill="none" />
<rect x="168.8" y="131" width="7.9" height="56.8" rx="3.9" stroke-width="1.6" fill="#fff"/>
<path d="M176.7,138 L190,156 M176.7,180 L190,164 M176.7,150 L189,158.5 M176.7,170 L189,162 M176.7,160.3 L190,160.3" stroke-width="1.5" fill="none" />
<line x1="155" y1="160.3" x2="210" y2="160.3" stroke-width="1.0"  shape-rendering="crispEdges"/>
<path d="M190.4,149.5 L190.4,216 M189.7,149.5 L209,149.5 M208.1,149.5 L208.1,187" stroke-width="1.5" fill="none" />
<path d="M193,157 L205,157 M193,164 L205,164" stroke-width="1.0" fill="none" stroke-dasharray="4 2"/>
<path d="M210.5,150.5 L212.7,167.2 M214.6,150.5 L216.8,167.2 M218.6,150.5 L220.8,167.2 M222.7,150.5 L224.8,167.2 M226.7,150.5 L228.9,167.2 M230.8,150.5 L232.9,167.2 M234.8,150.5 L237.0,167.2 M238.8,150.5 L241.0,167.2 " stroke-width="2.5" fill="none" />
<path d="M209,151 L242,152 M210,167.4 L242,167.4" stroke-width="1.3" fill="none" />
<rect x="242.5" y="154.5" width="22" height="16" stroke-width="2.4" fill="#fff"/>
<path d="M243,159.4 L264,159.4 M250.3,147 L250.3,171" stroke-width="1.0" fill="none" />
<circle cx="250.3" cy="159.4" r="2.0" fill="#000" stroke="none"/>
<line x1="261.3" y1="153" x2="261.3" y2="172" stroke-width="3.6" />
<line x1="238.5" y1="172.3" x2="268" y2="172.3" stroke-width="6.0" />
<path d="M238.3,179.5 L238.3,185.5 L243,185.5" stroke-width="2.0" fill="none" />
<path d="M244.4,178 L244.4,191 M250.3,178 L250.3,191 M257.2,178 L257.2,191 M242,279 L242,312 M249.5,279 L249.5,312 M258,279 L258,303" stroke-width="1.0" fill="none" stroke-dasharray="5 2.5"/>
<circle cx="249" cy="305.8" r="2.8" fill="#000" stroke="none"/>
<path d="M240,305.8 L262,305.8" stroke-width="0.9" fill="none" />
<line x1="191" y1="283.7" x2="400" y2="283.7" stroke-width="1.0"  shape-rendering="crispEdges"/>
<clipPath id="fl1"><rect x="165" y="303" width="24" height="14"/></clipPath>
<path d="M151.0,317 L165.0,303 M157.5,317 L171.5,303 M164.0,317 L178.0,303 M170.5,317 L184.5,303 M177.0,317 L191.0,303 M183.5,317 L197.5,303 M190.0,317 L204.0,303 M196.5,317 L210.5,303 " stroke-width="1.7" clip-path="url(#fl1)"/>
<rect x="165" y="303" width="24" height="14" stroke-width="2.0"/>
<clipPath id="fl2"><rect x="401" y="305.5" width="23" height="12"/></clipPath>
<path d="M389.0,317.5 L401.0,305.5 M395.5,317.5 L407.5,305.5 M402.0,317.5 L414.0,305.5 M408.5,317.5 L420.5,305.5 M415.0,317.5 L427.0,305.5 M421.5,317.5 L433.5,305.5 M428.0,317.5 L440.0,305.5 M434.5,317.5 L446.5,305.5 " stroke-width="1.7" clip-path="url(#fl2)"/>
<rect x="401" y="305.5" width="23" height="12" stroke-width="2.0"/>
<path d="M198,304.7 L222,304.7 M192,311 L229,311 M165,317.5 L241,317.5 M190,315 L236,315" stroke-width="1.0" fill="none" />
<path d="M222,300.5 L259,300.5" stroke-width="1.0" fill="none" stroke-dasharray="6 3"/>
<line x1="346" y1="312.7" x2="399" y2="312.7" stroke-width="1.0"  shape-rendering="crispEdges"/>
<line x1="271" y1="335" x2="346" y2="335" stroke-width="1.0"  shape-rendering="crispEdges"/>
<line x1="272" y1="334.8" x2="295" y2="334.8" stroke-width="1.0"  shape-rendering="crispEdges"/>
<path d="M174.3,318 L174.3,527" stroke-width="1.8" fill="none" />
<rect x="180.3" y="322" width="12.4" height="200" rx="2" stroke-width="1.6"/>
<path d="M174,318.4 L196,318.4 L196,322" stroke-width="1.6" fill="none" />
<path d="M415.3,318 L415.3,527" stroke-width="1.8" fill="none" />
<rect x="397.3" y="322.5" width="12.2" height="199.5" rx="2" stroke-width="1.6"/>
<path d="M394.7,322 L394.7,318.4 L416,318.4" stroke-width="1.6" fill="none" />
<path d="M392,423.5 L423.5,445.5 L424.7,415 L392,381.6 Z" fill="#fff" stroke="none"/>
<path d="M191.5,283.7 L423.5,445.5 L424.7,415 L346.3,335 L401,284" stroke-width="1.7" fill="none" />
<clipPath id="bf"><rect x="170" y="527" width="251" height="6"/></clipPath>
<path d="M170,527 L174.5,533 M177,527 L181.5,533 M184,527 L188.5,533 M191,527 L195.5,533 M198,527 L202.5,533 M205,527 L209.5,533 M212,527 L216.5,533 M219,527 L223.5,533 M226,527 L230.5,533 M233,527 L237.5,533 M240,527 L244.5,533 M247,527 L251.5,533 M254,527 L258.5,533 M261,527 L265.5,533 M268,527 L272.5,533 M275,527 L279.5,533 M282,527 L286.5,533 M289,527 L293.5,533 M296,527 L300.5,533 M303,527 L307.5,533 M310,527 L314.5,533 M317,527 L321.5,533 M324,527 L328.5,533 M331,527 L335.5,533 M338,527 L342.5,533 M345,527 L349.5,533 M352,527 L356.5,533 M359,527 L363.5,533 M366,527 L370.5,533 M373,527 L377.5,533 M380,527 L384.5,533 M387,527 L391.5,533 M394,527 L398.5,533 M401,527 L405.5,533 M408,527 L412.5,533 M415,527 L419.5,533 M422,527 L426.5,533 " stroke-width="1.8" clip-path="url(#bf)"/>
<path d="M167,526.5 L424,526.5 Q426.5,526.5 426.5,529 L426.5,539 Q426.5,541.5 424,541.5 L167,541.5 Q164.7,541.5 164.7,539 L164.7,529 Q164.7,526.5 167,526.5 Z" stroke-width="1.7" fill="none" />
<path d="M171,533.2 L420,533.2" stroke-width="1.3" fill="none" />
<path d="M166,528 L172,539.5 M425.5,528 L419.5,539.5" stroke-width="1.3" fill="none" />
<path d="M166,529 L171,537 M167,535 L170,540 M423.5,529 L418.5,537 M423,535 L420,540" stroke-width="1.3" fill="none" />
<line x1="413.5" y1="423.5" x2="475.5" y2="465.3" stroke-width="4.2" />
<path d="M483.3,454.9 L496.7,465 L506,454.4 L512,487.9 L481.4,493.2 L487.3,481.2 L471.7,471 Z" stroke-width="2.6" fill="#fff" />
<clipPath id="mg"><circle cx="555.5" cy="236" r="102"/></clipPath>
<g clip-path="url(#mg)">
<clipPath id="lrub"><path d="M502,143 C488,160 474,178 473.5,192 C474,212 479,240 479.6,256 C479.5,268 475,278 468,288 L440,340 L505.4,340 L505.4,334 Q545,232.7 505.4,133 Z"/></clipPath>
<clipPath id="lcore"><path d="M502,143 C488,160 474,178 473.5,192 C474,212 479,240 479.6,256 C479.5,268 475,278 468,288 L440,300 L440,130 Z"/></clipPath>
<clipPath id="rrub"><path d="M628.5,173 C622,190 615.5,215 615,234.6 C615,255 619,278 631,299 L640,345 L595,345 L595,336 Q552.5,232 592,133 L640,133 Z"/></clipPath>
<clipPath id="rcore"><path d="M628.5,173 C622,190 615.5,215 615,234.6 C615,255 619,278 631,299 L670,299 L670,170 Z"/></clipPath>
<path d="M223.0,345 L443.0,125 M235.6,345 L455.6,125 M248.2,345 L468.2,125 M260.8,345 L480.8,125 M273.4,345 L493.4,125 M286.0,345 L506.0,125 M298.6,345 L518.6,125 M311.2,345 L531.2,125 M323.8,345 L543.8,125 M336.4,345 L556.4,125 M349.0,345 L569.0,125 M361.6,345 L581.6,125 M374.2,345 L594.2,125 M386.8,345 L606.8,125 M399.4,345 L619.4,125 M412.0,345 L632.0,125 M424.6,345 L644.6,125 M437.2,345 L657.2,125 M449.8,345 L669.8,125 M462.4,345 L682.4,125 M475.0,345 L695.0,125 M487.6,345 L707.6,125 M500.2,345 L720.2,125 M512.8,345 L732.8,125 M525.4,345 L745.4,125 M538.0,345 L758.0,125 M550.6,345 L770.6,125 M563.2,345 L783.2,125 M575.8,345 L795.8,125 M588.4,345 L808.4,125 M601.0,345 L821.0,125 M613.6,345 L833.6,125 M626.2,345 L846.2,125 M638.8,345 L858.8,125 M651.4,345 L871.4,125 M664.0,345 L884.0,125 M676.6,345 L896.6,125 M689.2,345 L909.2,125 M701.8,345 L921.8,125 M714.4,345 L934.4,125 M727.0,345 L947.0,125 M739.6,345 L959.6,125 M752.2,345 L972.2,125 M764.8,345 L984.8,125 M777.4,345 L997.4,125 M790.0,345 L1010.0,125 M802.6,345 L1022.6,125 M815.2,345 L1035.2,125 M827.8,345 L1047.8,125 M840.4,345 L1060.4,125 M853.0,345 L1073.0,125 M865.6,345 L1085.6,125 M878.2,345 L1098.2,125 " stroke-width="1.25" clip-path="url(#lrub)"/>
<path d="M227.0,125 L447.0,345 M239.6,125 L459.6,345 M252.2,125 L472.2,345 M264.8,125 L484.8,345 M277.4,125 L497.4,345 M290.0,125 L510.0,345 M302.6,125 L522.6,345 M315.2,125 L535.2,345 M327.8,125 L547.8,345 M340.4,125 L560.4,345 M353.0,125 L573.0,345 M365.6,125 L585.6,345 M378.2,125 L598.2,345 M390.8,125 L610.8,345 M403.4,125 L623.4,345 M416.0,125 L636.0,345 M428.6,125 L648.6,345 M441.2,125 L661.2,345 M453.8,125 L673.8,345 M466.4,125 L686.4,345 M479.0,125 L699.0,345 M491.6,125 L711.6,345 M504.2,125 L724.2,345 M516.8,125 L736.8,345 M529.4,125 L749.4,345 M542.0,125 L762.0,345 M554.6,125 L774.6,345 M567.2,125 L787.2,345 M579.8,125 L799.8,345 M592.4,125 L812.4,345 M605.0,125 L825.0,345 M617.6,125 L837.6,345 M630.2,125 L850.2,345 M642.8,125 L862.8,345 M655.4,125 L875.4,345 M668.0,125 L888.0,345 M680.6,125 L900.6,345 M693.2,125 L913.2,345 M705.8,125 L925.8,345 M718.4,125 L938.4,345 M731.0,125 L951.0,345 M743.6,125 L963.6,345 M756.2,125 L976.2,345 M768.8,125 L988.8,345 M781.4,125 L1001.4,345 M794.0,125 L1014.0,345 M806.6,125 L1026.6,345 M819.2,125 L1039.2,345 M831.8,125 L1051.8,345 M844.4,125 L1064.4,345 M857.0,125 L1077.0,345 M869.6,125 L1089.6,345 M882.2,125 L1102.2,345 " stroke-width="1.25" clip-path="url(#lrub)"/>
<path d="M221.0,345 L441.0,125 M233.6,345 L453.6,125 M246.2,345 L466.2,125 M258.8,345 L478.8,125 M271.4,345 L491.4,125 M284.0,345 L504.0,125 M296.6,345 L516.6,125 M309.2,345 L529.2,125 M321.8,345 L541.8,125 M334.4,345 L554.4,125 M347.0,345 L567.0,125 M359.6,345 L579.6,125 M372.2,345 L592.2,125 M384.8,345 L604.8,125 M397.4,345 L617.4,125 M410.0,345 L630.0,125 M422.6,345 L642.6,125 M435.2,345 L655.2,125 M447.8,345 L667.8,125 M460.4,345 L680.4,125 M473.0,345 L693.0,125 M485.6,345 L705.6,125 M498.2,345 L718.2,125 M510.8,345 L730.8,125 M523.4,345 L743.4,125 M536.0,345 L756.0,125 M548.6,345 L768.6,125 M561.2,345 L781.2,125 M573.8,345 L793.8,125 M586.4,345 L806.4,125 M599.0,345 L819.0,125 M611.6,345 L831.6,125 M624.2,345 L844.2,125 M636.8,345 L856.8,125 M649.4,345 L869.4,125 M662.0,345 L882.0,125 M674.6,345 L894.6,125 M687.2,345 L907.2,125 M699.8,345 L919.8,125 M712.4,345 L932.4,125 M725.0,345 L945.0,125 M737.6,345 L957.6,125 M750.2,345 L970.2,125 M762.8,345 L982.8,125 M775.4,345 L995.4,125 M788.0,345 L1008.0,125 M800.6,345 L1020.6,125 M813.2,345 L1033.2,125 M825.8,345 L1045.8,125 M838.4,345 L1058.4,125 M851.0,345 L1071.0,125 M863.6,345 L1083.6,125 M876.2,345 L1096.2,125 M888.8,345 L1108.8,125 " stroke-width="1.25" clip-path="url(#rrub)"/>
<path d="M225.0,125 L445.0,345 M237.6,125 L457.6,345 M250.2,125 L470.2,345 M262.8,125 L482.8,345 M275.4,125 L495.4,345 M288.0,125 L508.0,345 M300.6,125 L520.6,345 M313.2,125 L533.2,345 M325.8,125 L545.8,345 M338.4,125 L558.4,345 M351.0,125 L571.0,345 M363.6,125 L583.6,345 M376.2,125 L596.2,345 M388.8,125 L608.8,345 M401.4,125 L621.4,345 M414.0,125 L634.0,345 M426.6,125 L646.6,345 M439.2,125 L659.2,345 M451.8,125 L671.8,345 M464.4,125 L684.4,345 M477.0,125 L697.0,345 M489.6,125 L709.6,345 M502.2,125 L722.2,345 M514.8,125 L734.8,345 M527.4,125 L747.4,345 M540.0,125 L760.0,345 M552.6,125 L772.6,345 M565.2,125 L785.2,345 M577.8,125 L797.8,345 M590.4,125 L810.4,345 M603.0,125 L823.0,345 M615.6,125 L835.6,345 M628.2,125 L848.2,345 M640.8,125 L860.8,345 M653.4,125 L873.4,345 M666.0,125 L886.0,345 M678.6,125 L898.6,345 M691.2,125 L911.2,345 M703.8,125 L923.8,345 M716.4,125 L936.4,345 M729.0,125 L949.0,345 M741.6,125 L961.6,345 M754.2,125 L974.2,345 M766.8,125 L986.8,345 M779.4,125 L999.4,345 M792.0,125 L1012.0,345 M804.6,125 L1024.6,345 M817.2,125 L1037.2,345 M829.8,125 L1049.8,345 M842.4,125 L1062.4,345 M855.0,125 L1075.0,345 M867.6,125 L1087.6,345 M880.2,125 L1100.2,345 " stroke-width="1.25" clip-path="url(#rrub)"/>
<path d="M222.0,345 L442.0,125 M239.0,345 L459.0,125 M256.0,345 L476.0,125 M273.0,345 L493.0,125 M290.0,345 L510.0,125 M307.0,345 L527.0,125 M324.0,345 L544.0,125 M341.0,345 L561.0,125 M358.0,345 L578.0,125 M375.0,345 L595.0,125 M392.0,345 L612.0,125 M409.0,345 L629.0,125 M426.0,345 L646.0,125 M443.0,345 L663.0,125 M460.0,345 L680.0,125 M477.0,345 L697.0,125 M494.0,345 L714.0,125 M511.0,345 L731.0,125 M528.0,345 L748.0,125 M545.0,345 L765.0,125 M562.0,345 L782.0,125 M579.0,345 L799.0,125 M596.0,345 L816.0,125 M613.0,345 L833.0,125 M630.0,345 L850.0,125 M647.0,345 L867.0,125 M664.0,345 L884.0,125 M681.0,345 L901.0,125 M698.0,345 L918.0,125 M715.0,345 L935.0,125 M732.0,345 L952.0,125 M749.0,345 L969.0,125 M766.0,345 L986.0,125 M783.0,345 L1003.0,125 M800.0,345 L1020.0,125 M817.0,345 L1037.0,125 M834.0,345 L1054.0,125 M851.0,345 L1071.0,125 M868.0,345 L1088.0,125 M885.0,345 L1105.0,125 " stroke-width="1.3" clip-path="url(#lcore)"/>
<path d="M226.0,125 L446.0,345 M240.5,125 L460.5,345 M255.0,125 L475.0,345 M269.5,125 L489.5,345 M284.0,125 L504.0,345 M298.5,125 L518.5,345 M313.0,125 L533.0,345 M327.5,125 L547.5,345 M342.0,125 L562.0,345 M356.5,125 L576.5,345 M371.0,125 L591.0,345 M385.5,125 L605.5,345 M400.0,125 L620.0,345 M414.5,125 L634.5,345 M429.0,125 L649.0,345 M443.5,125 L663.5,345 M458.0,125 L678.0,345 M472.5,125 L692.5,345 M487.0,125 L707.0,345 M501.5,125 L721.5,345 M516.0,125 L736.0,345 M530.5,125 L750.5,345 M545.0,125 L765.0,345 M559.5,125 L779.5,345 M574.0,125 L794.0,345 M588.5,125 L808.5,345 M603.0,125 L823.0,345 M617.5,125 L837.5,345 M632.0,125 L852.0,345 M646.5,125 L866.5,345 M661.0,125 L881.0,345 M675.5,125 L895.5,345 M690.0,125 L910.0,345 M704.5,125 L924.5,345 M719.0,125 L939.0,345 M733.5,125 L953.5,345 M748.0,125 L968.0,345 M762.5,125 L982.5,345 M777.0,125 L997.0,345 M791.5,125 L1011.5,345 M806.0,125 L1026.0,345 M820.5,125 L1040.5,345 M835.0,125 L1055.0,345 M849.5,125 L1069.5,345 M864.0,125 L1084.0,345 M878.5,125 L1098.5,345 " stroke-width="1.3" clip-path="url(#rcore)"/>
<path d="M502,143 C488,160 474,178 473.5,192 C474,212 479,240 479.6,256 C479.5,268 475,278 468,288" stroke-width="2.4" fill="none" />
<path d="M628.5,173 C622,190 615.5,215 615,234.6 C615,255 619,278 631,299" stroke-width="2.4" fill="none" />
<path d="M505.4,133 Q545,232.7 505.4,334" stroke-width="3.6" fill="none" />
<path d="M592,133 Q552.5,232 595,336" stroke-width="3.6" fill="none" />
<path d="M496.5,201.5 L503.5,201.5 L504.5,252 L508,250 L503,258 L498,250 L501.5,252 Z" fill="#000" stroke-width="0.6"/>
<path d="M583.0,202.5 L592.0,202.5 L587.3,252.5 L590.5,250.5 L585.5,258.5 L580.5,250.5 L583.7,252.5 Z" fill="#000" stroke-width="0.6"/>
<path d="M599.0,206 L608.0,206 L603.3,251.5 L606.5,249.5 L601.5,257.5 L596.5,249.5 L599.7,251.5 Z" fill="#000" stroke-width="0.6"/>
<clipPath id="gr"><ellipse cx="548" cy="175" rx="20.5" ry="34"/></clipPath>
<g transform="rotate(-6 548 175)">
<ellipse cx="548" cy="175" rx="20.5" ry="34" fill="#fff" stroke-width="2.0"/>
<g clip-path="url(#gr)">
<ellipse cx="551.5" cy="174" rx="10.5" ry="33" fill="#000" stroke="none"/>
<path d="M528.5,147.6 l1.5,10.4 M528.5,159.7 l1.3,16.6 M528.5,178.0 l1.0,16.1 M528.5,196.9 l1.1,9.1 M530.8,151.6 l1.2,10.0 M530.8,165.0 l1.5,23.2 M530.8,190.8 l1.0,23.6 M533.1,147.3 l1.1,10.3 M533.1,160.1 l1.1,21.1 M533.1,184.4 l1.3,18.2 M533.1,205.7 l1.0,9.0 M535.4,150.4 l1.3,14.8 M535.4,168.5 l1.2,15.3 M535.4,187.7 l1.2,19.2 M537.7,149.2 l1.6,22.0 M537.7,173.6 l1.1,23.7 M537.7,200.0 l1.1,20.1 M540.0,145.3 l1.6,18.7 M540.0,167.2 l1.3,22.0 M540.0,192.8 l1.5,17.5 M561.0,156.7 l0.6,17.3 M561.0,178.0 l0.6,14.0 M561.0,194.2 l0.6,14.4 M563.4,157.9 l0.6,15.9 M563.4,176.9 l0.6,10.6 M563.4,192.3 l0.6,6.3 M565.8,151.3 l0.6,7.4 M565.8,161.0 l0.6,15.2 M565.8,178.7 l0.6,9.0 M565.8,191.3 l0.6,16.5 M568.2,153.6 l0.6,12.6 M568.2,171.7 l0.6,15.8 M568.2,193.0 l0.6,9.3 " stroke-width="1.55"/>
<path d="M549.0,189.8 l0.7,10.7 M546.1,157.9 l0.7,5.6 M547.3,171.8 l0.7,8.1 M547.7,150.2 l0.7,6.9 M549.2,175.5 l0.7,10.7 M553.7,173.2 l0.7,8.3 M553.5,152.4 l0.7,10.3 M554.9,189.4 l0.7,9.6 M549.5,168.0 l0.7,4.7 " style="stroke:#fff" stroke-width="1.0"/>
</g></g>
<path d="M540,200 L533,215" stroke-width="3.2" fill="none" />
<path d="M535,210 C528,222 524,240 527,262 C531,270 537,274 542,272 L548,225 Z" stroke-width="1" fill="#000" />
<path d="M558,222 C566,232 570,250 568,268 C562,280 552,287 545.5,290 C545,282 548,272 552,264 Z" stroke-width="1" fill="#000" />
<path d="M560.9,238.7 l1.2,1.2 M552.9,245.2 l1.2,1.2 M554.3,251.0 l1.2,1.2 M552.7,236.0 l1.2,1.2 M554.1,240.5 l1.2,1.2 M557.1,237.1 l1.2,1.2 M564.2,263.0 l1.2,1.2 M554.1,247.1 l1.2,1.2 M556.9,252.0 l1.2,1.2 M553.7,273.4 l1.2,1.2 M565.9,256.5 l1.2,1.2 M558.8,239.8 l1.2,1.2 M553.4,251.1 l1.2,1.2 M555.7,272.5 l1.2,1.2 M554.3,237.0 l1.2,1.2 M565.3,259.2 l1.2,1.2 M554.1,259.9 l1.2,1.2 M552.4,259.2 l1.2,1.2 M565.7,274.0 l1.2,1.2 M561.7,247.5 l1.2,1.2 M557.1,243.3 l1.2,1.2 M562.8,259.4 l1.2,1.2 " style="stroke:#fff" stroke-width="1.1"/>
<g transform="rotate(9.5 545.8 245)"><rect x="538" y="217.5" width="15.6" height="55" rx="7.8" fill="#fff" stroke-width="3.4"/></g>
<path d="M509,326 L534,300 L536,304 L529,333 L512,338 Z" stroke-width="1" fill="#000" />
<path d="M565,299 L589,329 L584,336 L573,334 L566,305 Z" stroke-width="1" fill="#000" />
<path d="M527.5,315.9 l1,1.2 M518.6,327.5 l1,1.2 M530.8,328.5 l1,1.2 M527.9,327.6 l1,1.2 M526.8,313.4 l1,1.2 M523.3,316.5 l1,1.2 M515.5,308.7 l1,1.2 M519.5,314.2 l1,1.2 M526.1,331.0 l1,1.2 M522.2,330.5 l1,1.2 M530.8,330.9 l1,1.2 M520.8,313.3 l1,1.2 M518.6,312.7 l1,1.2 M518.3,323.0 l1,1.2 M529.4,328.2 l1,1.2 M522.7,323.7 l1,1.2 M579.2,309.9 l1,1.2 M577.2,328.0 l1,1.2 M579.0,324.5 l1,1.2 M574.7,311.9 l1,1.2 M579.0,315.3 l1,1.2 M579.2,329.4 l1,1.2 M573.5,316.8 l1,1.2 M581.3,323.9 l1,1.2 M570.4,310.8 l1,1.2 M570.1,327.9 l1,1.2 M579.3,311.2 l1,1.2 M579.6,329.6 l1,1.2 M577.2,315.7 l1,1.2 M575.7,310.9 l1,1.2 " style="stroke:#fff" stroke-width="1.0"/>
<path d="M535.5,340 C536,318 542,307 550.5,307 C559,307 565,318 566,340" stroke-width="3.0" fill="#fff" />
</g>
<circle cx="555.5" cy="236" r="102" stroke-width="4.0"/>
<line x1="343.6" y1="633" x2="343.6" y2="928" stroke-width="1.1"  shape-rendering="crispEdges"/>
<line x1="203" y1="807.2" x2="500" y2="807.2" stroke-width="1.0"  shape-rendering="crispEdges"/>
<path d="M297.5,690 L297.5,889" stroke-width="1.0" fill="none" stroke-dasharray="60 3 4 3"/>
<path d="M388.4,670 L388.4,880" stroke-width="1.0" fill="none" stroke-dasharray="30 3 4 3"/>
<line x1="157" y1="755.9" x2="257" y2="755.9" stroke-width="1.0"  shape-rendering="crispEdges"/>
<path d="M232,873 L214,873 L214,743 M214,743 L218,743" stroke-width="1.3" fill="none" />
<path d="M429.5,741 L473,741 L473,871 L453,871" stroke-width="1.3" fill="none" />
<path d="M232,790 L232,915.9 L453,915.9 L453,787" stroke-width="1.5" fill="none" />
<line x1="232.5" y1="915.5" x2="312.2" y2="837" stroke-width="1.3" />
<line x1="453" y1="915.5" x2="375" y2="836.7" stroke-width="1.3" />
<path d="M255.7,766 L255.7,725.5 Q255.7,721.4 260,721.4 L429.5,721.4 L429.5,745.8 L401,745.8" stroke-width="1.7" fill="none" />
<path d="M276.5,721.4 L276.5,712.5 Q276.5,709 280,709 L313.5,709 Q317,709 317,712.5 L317,721.4" stroke-width="1.6" fill="none" />
<path d="M332,721 L332,714 Q332,711.5 335,711.5 L347,711.5 Q350,711.5 350,714 L350,721 M350,714 Q350,711.8 353,711.8 L361,711.8 Q363.7,711.8 363.7,714 L363.7,721 M336,716 L360,716" stroke-width="1.5" fill="none" />
<path d="M361,683.8 L414,683.8" stroke-width="6.0" fill="none" />
<path d="M414,683 L447,682" stroke-width="2.6" fill="none" />
<path d="M366,690 L436,689.5 M368,693.5 L430,693.5" stroke-width="1.3" fill="none" />
<path d="M361,698.8 L444,698.8" stroke-width="3.0" fill="none" />
<path d="M361,681 L361,700 M438.5,682 L441.5,699 M446.5,681.5 L449,699.5 L442,700" stroke-width="1.8" fill="none" />
<path d="M374,690 L392,690 M396,691.5 L436,691.5" stroke-width="2.4" fill="none" />
<path d="M382.6,700.5 L382.6,708.4 M393.2,700.5 L393.2,708.4" stroke-width="1.5" fill="none" />
<path d="M374.2,720.6 L374.2,711 Q374.2,708.4 377,708.4 L397.7,708.4 Q400.5,708.4 400.5,711 L400.5,720.6 M381,708.4 L381,720.6 M394,708.4 L394,720.6" stroke-width="1.5" fill="none" />
<line x1="388.4" y1="672" x2="388.4" y2="681" stroke-width="1.4"  shape-rendering="crispEdges"/>
<path d="M374,745.8 L374,761 M401.5,745.8 L401.5,761 M374,752 L401.5,752 M376,756.5 L399.5,756.5" stroke-width="1.5" fill="none" />
<path d="M332,745.8 L332,755.7 L363.7,755.7 L363.7,745.8 M350,745.8 L350,755.7 M336,755.7 L336,761 M347,755.7 L347,761 M353,755.7 L353,761 M360.5,755.7 L360.5,761 M334,750.5 L362,750.5" stroke-width="1.4" fill="none" />
<path d="M233.6,742.6 L255,742.6 M233.6,760 L255,760 M233.6,766 L255,766" stroke-width="1.3" fill="none" />
<path d="M236,749.5 L254,749.5" stroke-width="1.2" fill="none" stroke-dasharray="5 2.5"/>
<rect x="255.5" y="745.5" width="30.5" height="20.5" fill="#000" stroke-width="1"/>
<path d="M263,748 L263,756 M270,750 L270,760 M277.5,747 L277.5,754 M282,756 L282,763" stroke-width="0.8" fill="none" style="stroke:#fff"/>
<rect x="288.5" y="741.6" width="17.5" height="25.4" rx="3.5" fill="#fff" stroke-width="1.8"/>
<path d="M291,746.5 L304,746.5 M291,751.5 L304,751.5 M291,757.5 L304,757.5 M291,762.5 L304,762.5" stroke-width="1.6" fill="none" stroke-dasharray="3.5 2"/>
<path d="M294,741.6 L294,767 M301,741.6 L301,767" stroke-width="1.1" fill="none" />
<path d="M306,748.6 L345,748.6" stroke-width="3.4" fill="none" />
<path d="M345,747.3 L429,747.3" stroke-width="1.3" fill="none" />
<path d="M306,758.2 L332,758.2" stroke-width="2.4" fill="none" />
<path d="M306,753.5 L345,753.5" stroke-width="1.0" fill="none" stroke-dasharray="8 3"/>
<rect x="217.9" y="728.8" width="6.2" height="54" rx="3.1" fill="#fff" stroke-width="1.5"/>
<path d="M224.1,735 L233.6,755 M224.1,776.4 L233.6,761.8 M224.1,748 L232,756 M224.1,766 L232,760 M224.1,755.9 L233.6,755.9" stroke-width="1.4" fill="none" />
<path d="M236.6,789 L236.6,769 L308,769 L316,764.6 L441.5,764.6 Q449.6,764.6 449.6,773 L449.6,789" stroke-width="4.0" fill="none" />
<path d="M240,768.4 L300,768.4 M322,764.3 L438,764.3" stroke-width="1.0" fill="none" stroke-dasharray="1.2 3.5" style="stroke:#fff"/>
<path d="M254.8,772 L254.8,788.7" stroke-width="1.3" fill="none" />
<path d="M367,770.3 L431.3,770.3 L431.3,783" stroke-width="1.2" fill="none" />
<path d="M239,788.7 L296,788.7 Q306,788 311.7,785.6 L311.7,835.8 L339,835.8" stroke-width="1.5" fill="none" />
<path d="M374,835.8 L374,786.4 Q386,782.4 398.7,782 L430,782 Q442,784 451,788.7" stroke-width="1.5" fill="none" />
<path d="M401.5,777.8 L431,777.8" stroke-width="1.2" fill="none" />
<path d="M236,792 L236,842 Q236,850.5 244,850.5 L440,849.6 Q449.2,849 449.2,840 L449.2,792" stroke-width="1.3" fill="none" stroke-dasharray="7 3.2"/>
<path d="M240,795 L240,839 Q240,846 247,846 L437,845.4 Q445.6,845 445.6,837 L445.6,795" stroke-width="1.3" fill="none" stroke-dasharray="7 3.2"/>
<path d="M255,792 L255,841.4 L311.7,841.4" stroke-width="1.3" fill="none" stroke-dasharray="7 3.2"/>
<path d="M312.2,784 L312.2,774.6 L333,774.6" stroke-width="1.3" fill="none" stroke-dasharray="7 3.2"/>
<path d="M278.5,850.5 L278.5,862.8 L318.5,862.8 L318.5,850.5" stroke-width="1.3" fill="none" stroke-dasharray="7 3.2"/>
<path d="M374,840.3 L430.8,840.3 L430.8,788" stroke-width="1.3" fill="none" stroke-dasharray="7 3.2"/>
<path d="M374,857 L374,862.7 L403.2,862.7 L403.2,857 M374,857 L403.2,857" stroke-width="1.2" fill="none" stroke-dasharray="6 3"/>
<rect x="339.3" y="770.7" width="27" height="65.1" fill="#fff" stroke-width="1.2"/>
<path d="M342,770.7 L342,835.8" stroke-width="4.4" fill="none" />
<path d="M348,770.7 L348,835.8 M352.5,770.7 L352.5,835.8 M356.5,770.7 L356.5,835.8 M361,770.7 L361,835.8 M365,770.7 L365,835.8 " stroke-width="2.0" fill="none" />
<path d="M130.8,7.8 L136.4,3.2 L139.4,3.2 L135.0,22.8 L131.8,22.8 L135.6,8.6 L131.0,11.4 Z" fill="#000" stroke-width="0.6" stroke-linejoin="round"/>
<text x="208" y="23" font-size="28.5" class="lb" letter-spacing="0">2</text>
<text x="366" y="23" font-size="28.5" class="lb" letter-spacing="0">5</text>
<text x="435" y="68" font-size="28.5" class="lb" letter-spacing="0">3</text>
<text x="494" y="69" font-size="28.5" class="lb" letter-spacing="0">4</text>
<text x="560" y="69" font-size="28.5" class="lb" letter-spacing="0">5</text>
<text x="628.5" y="69" font-size="28.5" class="lb" letter-spacing="0">3</text>
<text x="63" y="68" font-size="28.5" class="lb" letter-spacing="0">8</text>
<text x="64" y="128" font-size="28.5" class="lb" letter-spacing="0">7</text>
<text x="63" y="188" font-size="28.5" class="lb" letter-spacing="0">6</text>
<text x="63" y="248" font-size="28.5" class="lb" letter-spacing="0">4</text>
<text x="62" y="308" font-size="28.5" class="lb" letter-spacing="0">5</text>
<text x="62" y="370" font-size="28.5" class="lb" letter-spacing="0">9</text>
<path d="M57.0,413.9 L62.6,409.3 L65.6,409.3 L61.2,428.9 L58.0,428.9 L61.8,414.7 L57.2,417.5 Z" fill="#000" stroke-width="0.6" stroke-linejoin="round"/>
<text x="66.0" y="429.5" font-size="28.5" class="lb" letter-spacing="0">2</text>
<path d="M56.0,472.6 L61.6,468.0 L64.6,468.0 L60.2,487.6 L57.0,487.6 L60.8,473.4 L56.2,476.2 Z" fill="#000" stroke-width="0.6" stroke-linejoin="round"/>
<text x="64.0" y="487.8" font-size="28.5" class="lb" letter-spacing="0">3</text>
<text x="176" y="603" font-size="28.5" class="lb" letter-spacing="0">6</text>
<path d="M272.1,587.4 L277.7,582.8 L280.7,582.8 L276.3,602.4 L273.1,602.4 L276.9,588.2 L272.3,591.0 Z" fill="#000" stroke-width="0.6" stroke-linejoin="round"/>
<path d="M281.4,587.4 L287.0,582.8 L290.0,582.8 L285.6,602.4 L282.4,602.4 L286.2,588.2 L281.6,591.0 Z" fill="#000" stroke-width="0.6" stroke-linejoin="round"/>
<path d="M394.8,586.2 L400.4,581.6 L403.4,581.6 L399.0,601.2 L395.8,601.2 L399.6,587.0 L395.0,589.8 Z" fill="#000" stroke-width="0.6" stroke-linejoin="round"/>
<text x="404.2" y="601.8" font-size="28.5" class="lb" letter-spacing="0">0</text>
<text x="111.5" y="720" font-size="28.5" class="lb" letter-spacing="0">8</text>
<text x="112" y="778" font-size="28.5" class="lb" letter-spacing="0">7</text>
<text x="94.5" y="843" font-size="28.5" class="lb" letter-spacing="1.5">4-5</text>
<path d="M106.9,886.8 L112.5,882.2 L115.5,882.2 L111.1,901.8 L107.9,901.8 L111.7,887.6 L107.1,890.4 Z" fill="#000" stroke-width="0.6" stroke-linejoin="round"/>
<text x="115.8" y="902.6" font-size="28.5" class="lb" letter-spacing="0">3</text>
<text x="554.5" y="717" font-size="28.5" class="lb" letter-spacing="0">9</text>
<text x="538" y="775" font-size="28.5" class="lb" letter-spacing="2.2">3-5</text>
<text x="555.5" y="840" font-size="28.5" class="lb" letter-spacing="0">2</text>
<path d="M559.8,882.7 L565.4,878.1 L568.4,878.1 L564.0,897.7 L560.8,897.7 L564.6,883.5 L560.0,886.3 Z" fill="#000" stroke-width="0.6" stroke-linejoin="round"/>
<path d="M133.8,26 L133.8,43.8 L193,73" stroke-width="1.5" fill="none" />
<circle cx="193" cy="73" r="1.8" fill="#000" stroke="none"/>
<path d="M215,27 L215,40 L300,180" stroke-width="1.5" fill="none" />
<line x1="375.4" y1="30" x2="356.2" y2="197" stroke-width="1.5" />
<path d="M443,72 L443,88 L380,210" stroke-width="1.5" fill="none" />
<path d="M502.6,73 L502.6,91 L462.2,241.2" stroke-width="1.5" fill="none" />
<circle cx="462.2" cy="241.2" r="2.1" fill="#000" stroke="none"/>
<path d="M505.3,182 L568.5,91.5 L568.5,72" stroke-width="1.5" fill="none" />
<line x1="568.5" y1="91.5" x2="614.5" y2="183" stroke-width="1.5" />
<circle cx="504.5" cy="183" r="2.1" fill="#000" stroke="none"/>
<circle cx="614.3" cy="184" r="2.1" fill="#000" stroke="none"/>
<line x1="637" y1="72" x2="637" y2="239" stroke-width="1.5"  shape-rendering="crispEdges"/>
<circle cx="637" cy="239.5" r="2.1" fill="#000" stroke="none"/>
<path d="M82,60.7 L117,60.7 L218,147" stroke-width="1.5" fill="none" />
<path d="M80,120.4 L117,120.4 L170,155.5" stroke-width="1.5" fill="none" />
<line x1="82" y1="181" x2="238" y2="181" stroke-width="1.5"  shape-rendering="crispEdges"/>
<line x1="82" y1="241.5" x2="232" y2="241.5" stroke-width="1.5"  shape-rendering="crispEdges"/>
<path d="M83,300 L120,300 L214,263" stroke-width="1.5" fill="none" />
<path d="M82,361 L117,361 L167,317" stroke-width="1.5" fill="none" />
<path d="M84.5,420 L261,420 L336,378" stroke-width="1.5" fill="none" />
<circle cx="336.5" cy="377" r="1.6" fill="#000" stroke="none"/>
<path d="M82,481 L171,481" stroke-width="1.5" fill="none" />
<path d="M173.5,481 L167,478.5 L167,483.5 Z" stroke-width="0.5" fill="#000" />
<line x1="117" y1="481.5" x2="167" y2="528" stroke-width="1.5" />
<path d="M184,607 L184,647.8 L291.4,743.7" stroke-width="1.5" fill="none" />
<path d="M279.7,604.5 L279.7,650 L313.3,731.7" stroke-width="1.5" fill="none" />
<circle cx="313.5" cy="732" r="1.8" fill="#000" stroke="none"/>
<line x1="407.2" y1="606" x2="407.2" y2="690" stroke-width="1.5"  shape-rendering="crispEdges"/>
<path d="M128.3,712 L210.6,712 L269,744" stroke-width="1.5" fill="none" />
<line x1="128.3" y1="770.7" x2="296" y2="770.7" stroke-width="1.5"  shape-rendering="crispEdges"/>
<path d="M138.3,836 L153.3,836 L284.3,780" stroke-width="1.5" fill="none" />
<circle cx="284.5" cy="780" r="1.8" fill="#000" stroke="none"/>
<path d="M134.3,892.8 L163.3,892.8 L221,869.5" stroke-width="1.5" fill="none" />
<path d="M551.3,707.3 L539.7,707.3 L431,759" stroke-width="1.5" fill="none" />
<path d="M429,760 L436,754 L438,758.5 Z" stroke-width="0.5" fill="#000" />
<line x1="537.3" y1="765.7" x2="403" y2="780" stroke-width="1.5" />
<line x1="553" y1="832.5" x2="354.7" y2="816.7" stroke-width="1.5" />
<path d="M555.8,891.3 L522,891.3 L439.7,876" stroke-width="1.5" fill="none" />
<circle cx="439.7" cy="876" r="1.8" fill="#000" stroke="none"/>
</svg>
<h1>Légende</h1>
<div class="leg" style="top:938.4px">
<div>1. Trémie d'alimentation; 2. Rouleau distributeur; 3. Rouleau rapide; 4. Rouleau lent;</div>
<div>5. Gaine de caoutchouc; 6. Bras de réglage du rouleau; 7. Volant à main de réglage</div>
<div>d'écartement des rouleaux; 8. Ressort de rappel du rouleau; 9. Carter de la décorti-</div>
<div>queuse; 10. Poulie d'entraînement; 11. Boîte du mécanisme d'entraînement; 12. Tuyau</div>
<div>de sortie; 13. Socle et bâti. (Détail: enlèvement des balles par friction sur les</div>
<div class="last">rouleaux.)</div>
</div>
</body></html>
